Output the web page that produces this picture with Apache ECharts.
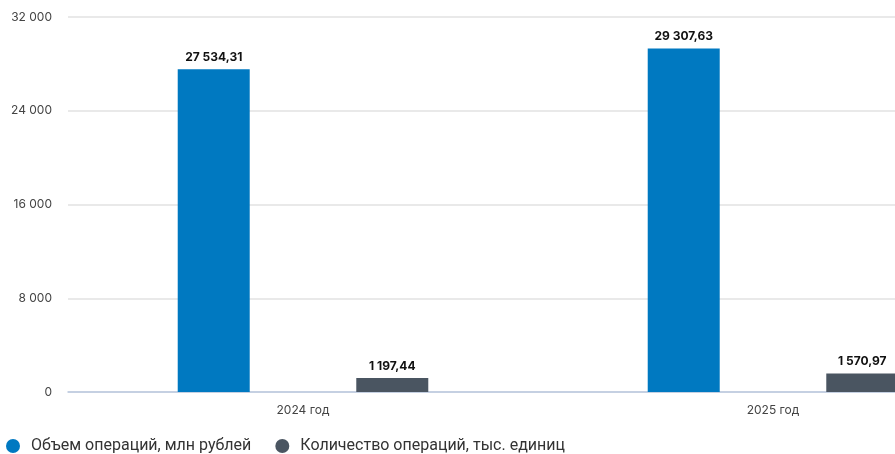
<!DOCTYPE html>
<html>
<head>
<meta charset="utf-8">
<script src="https://cdn.jsdelivr.net/npm/echarts@6/dist/echarts.min.js"></script>
<style>
  html, body { margin: 0; padding: 0; background: #fff; }
  #chart { width: 895px; height: 454px; }
</style>
</head>
<body>
<div id="chart"></div>
<script>
var years = ['2024 год', '2025 год']
var volume = [27534.31, 29307.63]
var count = [1197.44, 1570.97]
var seriesNames = ['Объем операций, млн рублей', 'Количество операций, тыс. единиц']

function ruNum(v) {
  var parts = v.toFixed(2).split('.')
  return parts[0].replace(/\B(?=(\d{3})+(?!\d))/g, ' ') + ',' + parts[1]
}
function ruInt(v) {
  return String(v).replace(/\B(?=(\d{3})+(?!\d))/g, ' ')
}

var chart = echarts.init(document.getElementById('chart'))
var labelStyle = {
  show: true,
  position: 'top',
  distance: 6,
  color: '#111',
  fontWeight: 'bold',
  fontSize: 12,
  fontFamily: 'Inter',
  formatter: function (p) { return ruNum(p.value) }
}
chart.setOption({
  animation: false,
  textStyle: { fontFamily: 'Inter' },
  // the right part of the plot runs past the window edge, as in the source picture
  grid: { left: 68, width: 940, top: 17, bottom: 62, containLabel: false, outerBoundsMode: 'none' },
  legend: {
    left: 6,
    top: 438,
    padding: 0,
    itemWidth: 14,
    itemHeight: 14,
    itemGap: 24,
    icon: 'circle',
    textStyle: { fontSize: 16, color: '#333', fontFamily: 'Roboto', padding: [0, 0, 0, 6] },
    data: seriesNames
  },
  xAxis: {
    type: 'category',
    data: years,
    axisLine: { lineStyle: { color: '#b9c8df', width: 1.5 } },
    axisTick: { show: false },
    axisLabel: { color: '#444', fontSize: 12, margin: 12 }
  },
  yAxis: {
    type: 'value',
    min: 0,
    max: 32000,
    interval: 8000,
    axisLine: { show: false },
    axisTick: { show: false },
    splitLine: { lineStyle: { color: '#e2e2e2', width: 1.5 } },
    axisLabel: { color: '#444', fontSize: 12, margin: 16, formatter: ruInt }
  },
  series: [
    {
      name: seriesNames[0],
      type: 'bar',
      data: volume,
      barWidth: 72,
      barGap: '148%',
      itemStyle: { color: '#0079c1' },
      label: labelStyle
    },
    {
      name: seriesNames[1],
      type: 'bar',
      data: count,
      barWidth: 72,
      itemStyle: { color: '#4a5561' },
      label: labelStyle
    }
  ]
})
</script>
</body>
</html>
